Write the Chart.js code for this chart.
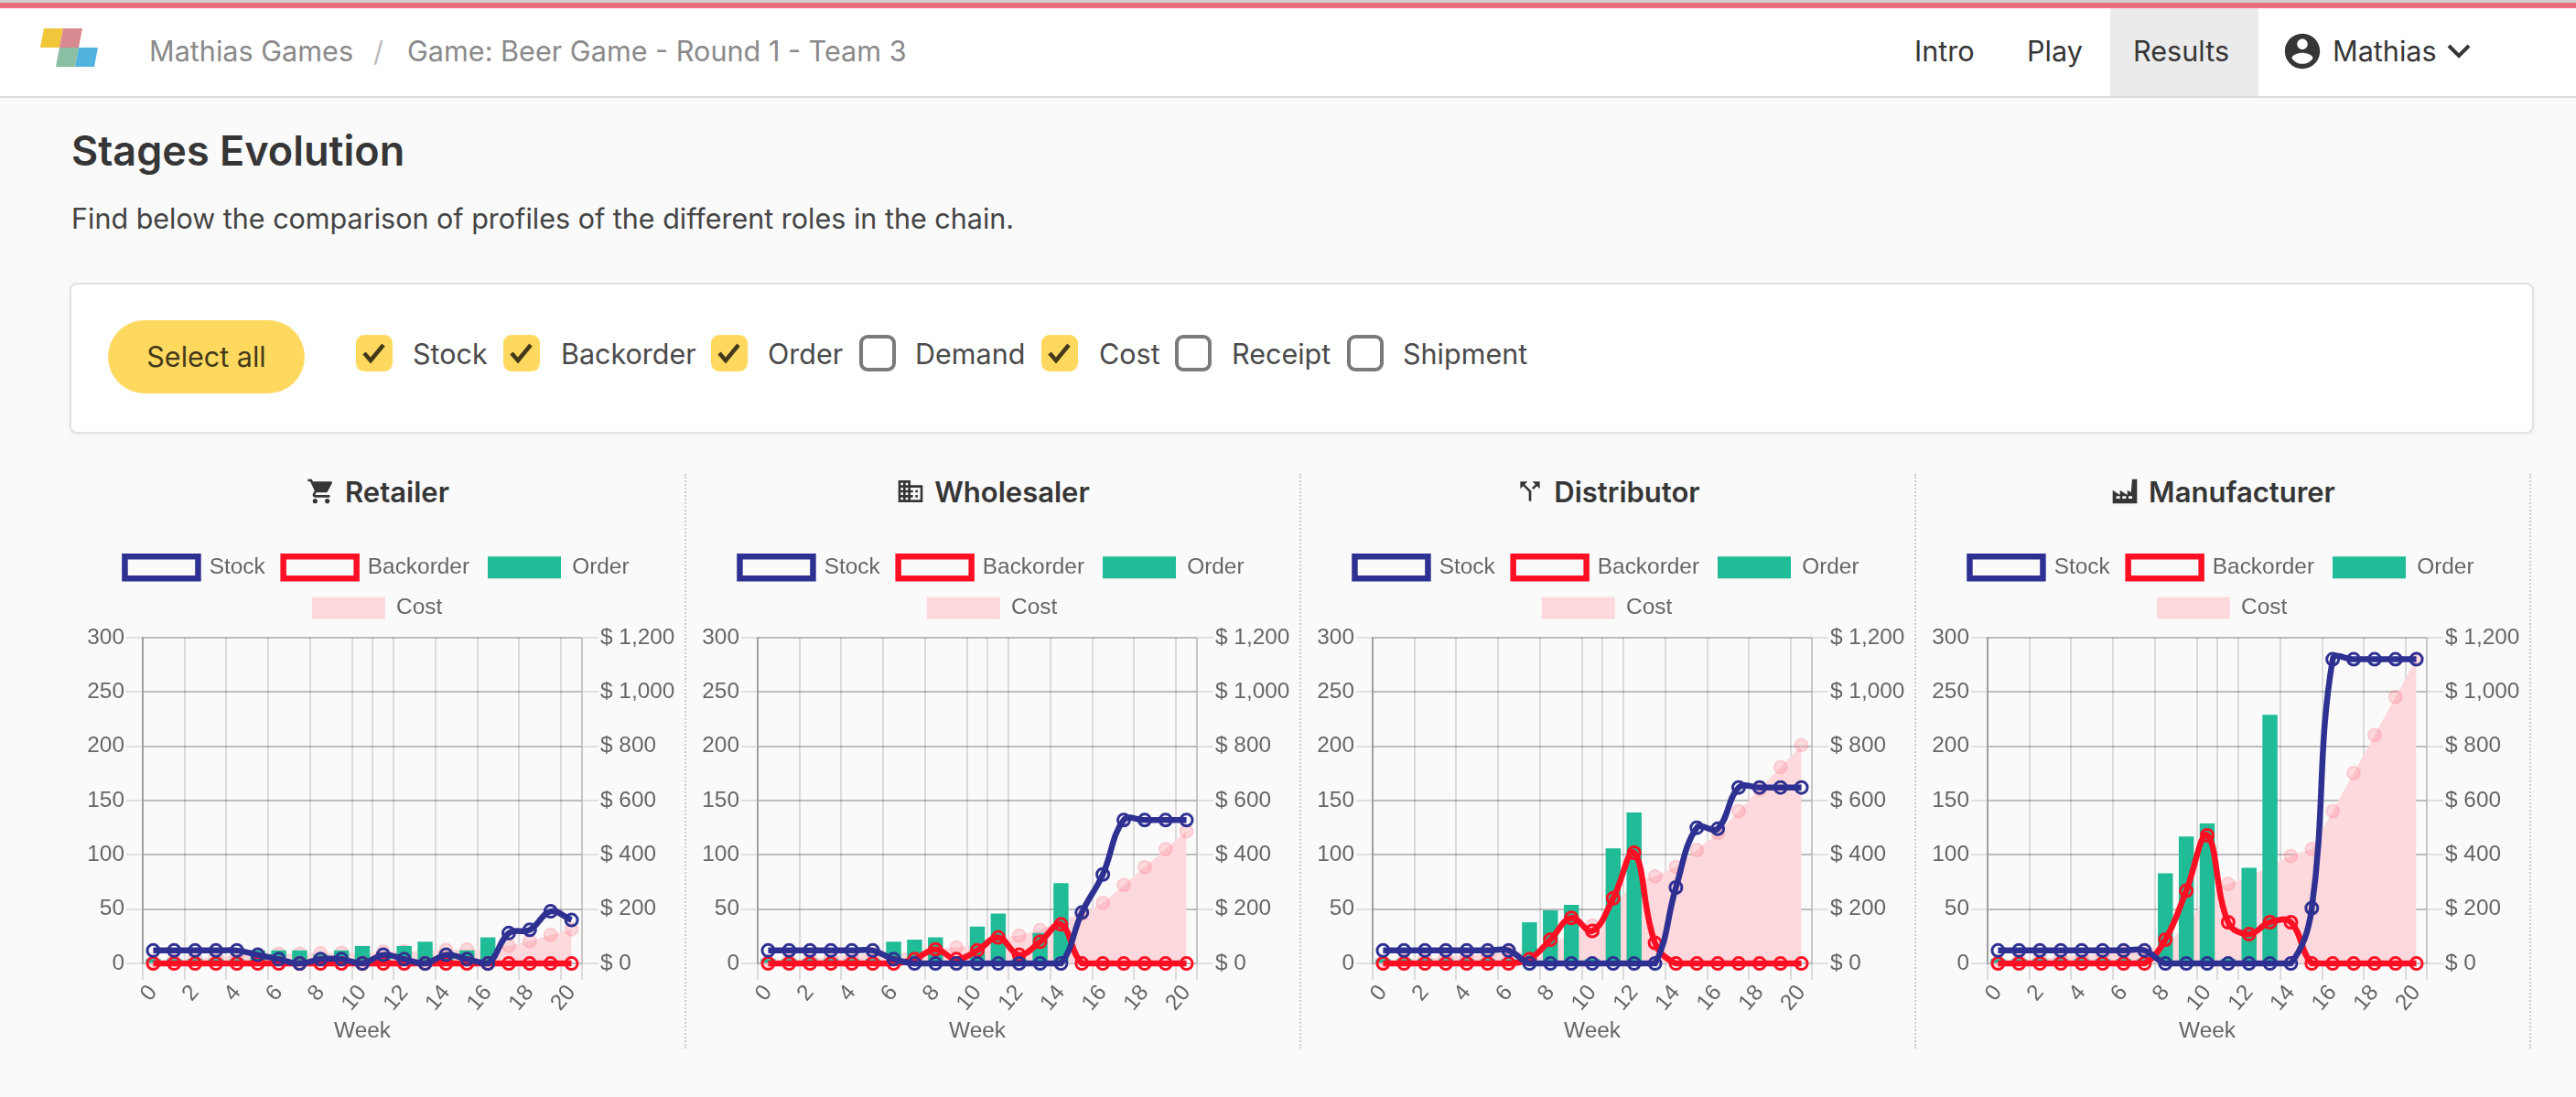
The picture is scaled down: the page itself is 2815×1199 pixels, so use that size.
<!DOCTYPE html>
<html lang="en">
<head>
    <meta charset="UTF-8">
    <title>Stages Evolution</title>
    <style>
        body {
            margin: 0;
            background-color: #fafafa;
            font-family: Inter, "Noto Sans", sans-serif;
            color: #363636;
            width: 2815px;
            height: 1199px;
            overflow: hidden;
            position: relative;
        }
        .abs { position: absolute; white-space: nowrap; }
        .topline { left: 0; top: 0; width: 100%; height: 3px; background-color: #cfcfcf; }
        .redline { left: 0; top: 3px; width: 100%; height: 6px; background-color: #e96d7b; }
        .navbar { left: 0; top: 9px; width: 100%; height: 96px; background-color: white; border-bottom: 2px solid #dcdcdc; }
        .crumb { top: 36px; font-size: 30.6px; line-height: 40px; color: #8a8a8a; }
        .navitem { top: 36px; font-size: 30.6px; line-height: 40px; color: #363636; }
        .active { left: 2306px; top: 9px; width: 162px; height: 96px; background-color: #ebebeb; }
        h1 { margin: 0; left: 78px; top: 136px; font-size: 45px; line-height: 58px; font-weight: 600; }
        .intro { left: 78px; top: 219px; font-size: 30.5px; line-height: 40px; color: #444; }
        .card {
            left: 76px; top: 309px; width: 2689px; height: 161px;
            background-color: white; border: 2px solid #e2e2e2; border-radius: 8px;
            box-shadow: 0 2px 6px rgba(0, 0, 0, 0.04);
        }
        .btn {
            left: 118px; top: 350px; width: 215px; height: 80px; border-radius: 40px;
            background-color: #ffd95f; color: #43391a; font-size: 30.5px; line-height: 80px; text-align: center;
        }
        .check { top: 366px; width: 40px; height: 40px; box-sizing: border-box; border-radius: 9px; }
        .check.on { background-color: #ffd95f; }
        .check.off { border: 4px solid #7a7a7a; background-color: white; }
        .check svg { position: absolute; left: 7px; top: 8px; }
        .chklabel { top: 367px; font-size: 30.5px; line-height: 40px; color: #4a4a4a; }
        .panel { top: 518px; width: 672px; height: 628px; }
        .panel.line { border-right: 2px dotted #cccccc; box-sizing: border-box; }
        .ptitle {
            position: absolute; left: 0; right: 0; top: 0; height: 38px;
            display: flex; align-items: center; justify-content: center; gap: 10px;
            font-size: 31px; font-weight: 600; color: #363636;
        }
        canvas { position: absolute; }
    </style>
    <script src="https://cdn.jsdelivr.net/npm/chart.js"></script>
</head>
<body>
    <div class="abs topline"></div>
    <div class="abs redline"></div>
    <div class="abs navbar"></div>
    <svg class="abs" style="left:44px;top:29px" width="66" height="45" viewBox="0 0 66 45">
        <polygon points="4,2 25,2 21,23 0,23" fill="#f0c63a"/>
        <polygon points="25,2 46,2 42,23 21,23" fill="#d98a90"/>
        <polygon points="21,23 42,23 38,44 17,44" fill="#8abfa3"/>
        <polygon points="42,23 63,23 59,44 38,44" fill="#52b2de"/>
    </svg>
    <div class="abs crumb" style="left:163px">Mathias Games</div>
    <div class="abs crumb" style="left:408px;color:#bbb">/</div>
    <div class="abs crumb" style="left:445px">Game: Beer Game - Round 1 - Team 3</div>
    <div class="abs active"></div>
    <div class="abs navitem" style="left:2092px">Intro</div>
    <div class="abs navitem" style="left:2215px">Play</div>
    <div class="abs navitem" style="left:2331px">Results</div>
    <svg class="abs" style="left:2493px;top:33px" width="46" height="46" viewBox="0 0 24 24" fill="#363636"><path d="M12 2C6.48 2 2 6.48 2 12s4.48 10 10 10 10-4.48 10-10S17.52 2 12 2zm0 3c1.66 0 3 1.34 3 3s-1.34 3-3 3-3-1.34-3-3 1.34-3 3-3zm0 14.2c-2.5 0-4.71-1.28-6-3.22.03-1.99 4-3.08 6-3.08 1.99 0 5.97 1.09 6 3.08-1.29 1.94-3.5 3.22-6 3.22z"/></svg>
    <div class="abs navitem" style="left:2549px">Mathias</div>
    <svg class="abs" style="left:2674px;top:47px" width="26" height="18" viewBox="0 0 26 18"><polyline points="2,3 13,14 24,3" fill="none" stroke="#363636" stroke-width="4"/></svg>

    <h1 class="abs">Stages Evolution</h1>
    <div class="abs intro">Find below the comparison of profiles of the different roles in the chain.</div>

    <div class="abs card"></div>
    <div class="abs btn">Select all</div>
    <div id="checks"></div>

    <div class="abs panel line" style="left:78px">
        <div class="ptitle">
            <svg width="32" height="32" viewBox="0 0 24 24" fill="#363636"><path d="M7 18c-1.1 0-1.99.9-1.99 2S5.9 22 7 22s2-.9 2-2-.9-2-2-2zM1 2v2h2l3.6 7.59-1.35 2.45c-.16.28-.25.61-.25.96 0 1.1.9 2 2 2h12v-2H7.42c-.14 0-.25-.11-.25-.25l.03-.12.9-1.63h7.45c.75 0 1.41-.41 1.75-1.03l3.58-6.49c.08-.14.12-.31.12-.48 0-.55-.45-1-1-1H5.21l-.94-2H1zm16 16c-1.1 0-1.99.9-1.99 2s.89 2 1.99 2 2-.9 2-2-.9-2-2-2z"/></svg>
            Retailer
        </div>
        <canvas id="retailerChart" width="652" height="554" style="left:8px;top:70px"></canvas>
    </div>
    <div class="abs panel line" style="left:750px">
        <div class="ptitle">
            <svg width="32" height="32" viewBox="0 0 24 24" fill="#363636"><path d="M12 7V3H2v18h20V7H12zM6 19H4v-2h2v2zm0-4H4v-2h2v2zm0-4H4V9h2v2zm0-4H4V5h2v2zm4 12H8v-2h2v2zm0-4H8v-2h2v2zm0-4H8V9h2v2zm0-4H8V5h2v2zm10 12h-8v-2h2v-2h-2v-2h2v-2h-2V9h8v10zm-2-8h-2v2h2v-2zm0 4h-2v2h2v-2z"/></svg>
            Wholesaler
        </div>
        <canvas id="wholesalerChart" width="652" height="554" style="left:8px;top:70px"></canvas>
    </div>
    <div class="abs panel line" style="left:1422px">
        <div class="ptitle">
            <svg width="32" height="32" viewBox="0 0 24 24" fill="#363636"><path d="M14 4l2.29 2.29-2.88 2.88 1.42 1.42 2.88-2.88L20 10V4zm-4 0H4v6l2.29-2.29 4.71 4.7V20h2v-8.41l-5.29-5.3z"/></svg>
            Distributor
        </div>
        <canvas id="distributorChart" width="652" height="554" style="left:8px;top:70px"></canvas>
    </div>
    <div class="abs panel line" style="left:2094px">
        <div class="ptitle">
            <svg width="32" height="32" viewBox="0 0 24 24" fill="#363636"><path fill-rule="evenodd" d="M2 22V11l6 4v-4l6 4V11l3 2 1-11h4v20zM5 16v2h3v-2zm5 0v2h3v-2zm5 0v2h3v-2z"/></svg>
            Manufacturer
        </div>
        <canvas id="manufacturerChart" width="652" height="554" style="left:8px;top:70px"></canvas>
    </div>

    <script>
        const weeks = ['0','1','2','3','4','5','6','7','8','9','10','11','12','13','14','15','16','17','18','19','20'];

        const retailerStock = [12,12,12,12,12,8,4,0,4,4,0,8,4,0,8,4,0,28,31,48,40];
        const retailerBackorder = [0,0,0,0,0,0,0,0,0,0,0,0,0,0,0,0,0,0,0,0,0];
        const retailerOrder = [4,4,4,4,4,12,12,12,8,12,16,8,16,20,8,12,24,0,0,0,0];
        const retailerCost = [6,12,18,24,30,34,36,36,38,40,40,44,46,46,50,52,52,66,82,106,126];

        const wholesalerStock = [12,12,12,12,12,12,4,0,0,0,0,0,0,0,0,47,82,132,132,132,132];
        const wholesalerBackorder = [0,0,0,0,0,0,0,4,13,4,12,24,8,20,36,0,0,0,0,0,0];
        const wholesalerOrder = [4,4,4,4,4,4,20,22,24,4,34,46,4,28,74,0,0,0,0,0,0];
        const wholesalerCost = [6,12,18,24,30,36,38,42,55,59,71,95,103,123,159,183,223,289,355,421,487];

        const distributorStock = [12,12,12,12,12,12,12,0,0,0,0,0,0,0,70,125,124,162,162,162,162];
        const distributorBackorder = [0,0,0,0,0,0,0,4,22,42,30,60,102,19,0,0,0,0,0,0,0];
        const distributorOrder = [4,4,4,4,4,4,4,38,49,54,4,106,139,0,0,0,0,0,0,0,0];
        const distributorCost = [6,12,18,24,30,36,42,46,68,110,140,200,302,321,356,418,480,561,642,723,804];

        const manufacturerStock = [12,12,12,12,12,12,12,12,0,0,0,0,0,0,0,51,280,280,280,280,280];
        const manufacturerBackorder = [0,0,0,0,0,0,0,0,22,67,118,38,27,38,38,0,0,0,0,0,0];
        const manufacturerOrder = [4,4,4,4,4,4,4,4,83,117,129,4,88,229,0,0,0,0,0,0,0];
        const manufacturerCost = [6,12,18,24,30,36,42,48,70,137,255,293,320,358,396,421,561,701,841,981,1121];

        const yTicksRight = 1200;
        const yTicksLeft = 300;

        // filter row above the charts
        const filterItems = [
            ['Stock', true, 389, 451], ['Backorder', true, 550, 613], ['Order', true, 777, 839],
            ['Demand', false, 939, 1000], ['Cost', true, 1138, 1201], ['Receipt', false, 1284, 1346],
            ['Shipment', false, 1472, 1533]
        ];
        const checks = document.getElementById('checks');
        filterItems.forEach(function(item) {
            const tick = item[1] ? '<svg width="26" height="24" viewBox="0 0 26 24"><polyline points="2,12 9,20 23,3" fill="none" stroke="#43391a" stroke-width="4.5"/></svg>' : '';
            checks.insertAdjacentHTML('beforeend',
                '<div class="abs check ' + (item[1] ? 'on' : 'off') + '" style="left:' + item[2] + 'px">' + tick + '</div>' +
                '<div class="abs chklabel" style="left:' + item[3] + 'px">' + item[0] + '</div>');
        });

        Chart.defaults.font.family = '"Liberation Sans", Arial, sans-serif';
        Chart.defaults.font.size = 24.4;
        Chart.defaults.color = '#666';
        Chart.defaults.animation = false;

        function xLineColor(ctx) {
            // only every second week gets a line, plus the odd one at week 11 and the right edge
            const i = ctx.index;
            if (i === undefined || i % 2 === 0 || i === 11) return 'rgba(0,0,0,0.12)';
            return 'rgba(0,0,0,0)';
        }

        // a bit of air between the legend and the plot
        const legendGap = {
            id: 'legendGap',
            beforeInit: function(chart) {
                const fit = chart.legend.fit;
                chart.legend.fit = function() {
                    fit.call(this);
                    this.height += 10;
                };
            }
        };

        function drawStage(id, stock, backorder, order, cost) {
            new Chart(document.getElementById(id), {
                type: 'bar',
                plugins: [legendGap],
                data: {
                    labels: weeks,
                    datasets: [
                        {
                            label: 'Stock', type: 'line', data: stock, yAxisID: 'y', tension: 0.4, clip: false,
                            borderColor: '#2e3192', backgroundColor: 'rgba(0,0,0,0)', borderWidth: 6.5, fill: false,
                            pointRadius: 6.5, pointBorderWidth: 3, pointBorderColor: '#2e3192', pointBackgroundColor: 'rgba(0,0,0,0)'
                        },
                        {
                            label: 'Backorder', type: 'line', data: backorder, yAxisID: 'y', tension: 0.4, clip: false,
                            borderColor: '#ff0f23', backgroundColor: 'rgba(0,0,0,0)', borderWidth: 6.5, fill: false,
                            pointRadius: 6.5, pointBorderWidth: 3, pointBorderColor: '#ff0f23', pointBackgroundColor: 'rgba(0,0,0,0)'
                        },
                        {
                            label: 'Order', data: order, yAxisID: 'y',
                            backgroundColor: '#20bc97', categoryPercentage: 0.8, barPercentage: 0.9
                        },
                        {
                            label: 'Cost', type: 'line', data: cost, yAxisID: 'y2', tension: 0, clip: false,
                            borderColor: 'rgba(0,0,0,0)', backgroundColor: '#fdd8dc', borderWidth: 0, fill: true,
                            pointRadius: 7, pointBorderWidth: 2, pointBorderColor: 'rgba(255,120,135,0.25)', pointBackgroundColor: 'rgba(255,120,135,0.25)'
                        }
                    ]
                },
                options: {
                    responsive: false,
                    maintainAspectRatio: false,
                    layout: { padding: 0 },
                    plugins: {
                        legend: {
                            position: 'top',
                            labels: { boxWidth: 80, boxHeight: 24, padding: 20 }
                        },
                        tooltip: { enabled: false }
                    },
                    scales: {
                        x: {
                            title: { display: true, text: 'Week', padding: { top: 2, bottom: 0 } },
                            grid: { color: xLineColor, tickColor: xLineColor, lineWidth: 2, tickLength: 18 },
                            border: { display: false },
                            ticks: {
                                autoSkip: false, minRotation: 50, maxRotation: 50, padding: 0,
                                callback: function(value, index) {
                                    return index % 2 === 0 ? weeks[index] : '';
                                }
                            }
                        },
                        y: {
                            position: 'left', min: 0, max: yTicksLeft,
                            afterFit: function(scale) { scale.width = 70; },
                            grid: { color: 'rgba(0,0,0,0.1)', lineWidth: 2, tickLength: 18 },
                            border: { color: '#a0a0a0', width: 2 },
                            ticks: { stepSize: 50, padding: 2 }
                        },
                        y2: {
                            position: 'right', min: 0, max: yTicksRight,
                            afterFit: function(scale) { scale.width = 102; },
                            grid: { color: 'rgba(0,0,0,0.16)', tickColor: 'rgba(0,0,0,0.1)', lineWidth: 2, tickLength: 18 },
                            border: { color: 'rgba(0,0,0,0.1)', width: 2 },
                            ticks: {
                                stepSize: 200, padding: 2,
                                callback: function(value) {
                                    return '$ ' + value.toLocaleString('en-US');
                                }
                            }
                        }
                    }
                }
            });
        }

        drawStage('retailerChart', retailerStock, retailerBackorder, retailerOrder, retailerCost);
        drawStage('wholesalerChart', wholesalerStock, wholesalerBackorder, wholesalerOrder, wholesalerCost);
        drawStage('distributorChart', distributorStock, distributorBackorder, distributorOrder, distributorCost);
        drawStage('manufacturerChart', manufacturerStock, manufacturerBackorder, manufacturerOrder, manufacturerCost);
    </script>
</body>
</html>
